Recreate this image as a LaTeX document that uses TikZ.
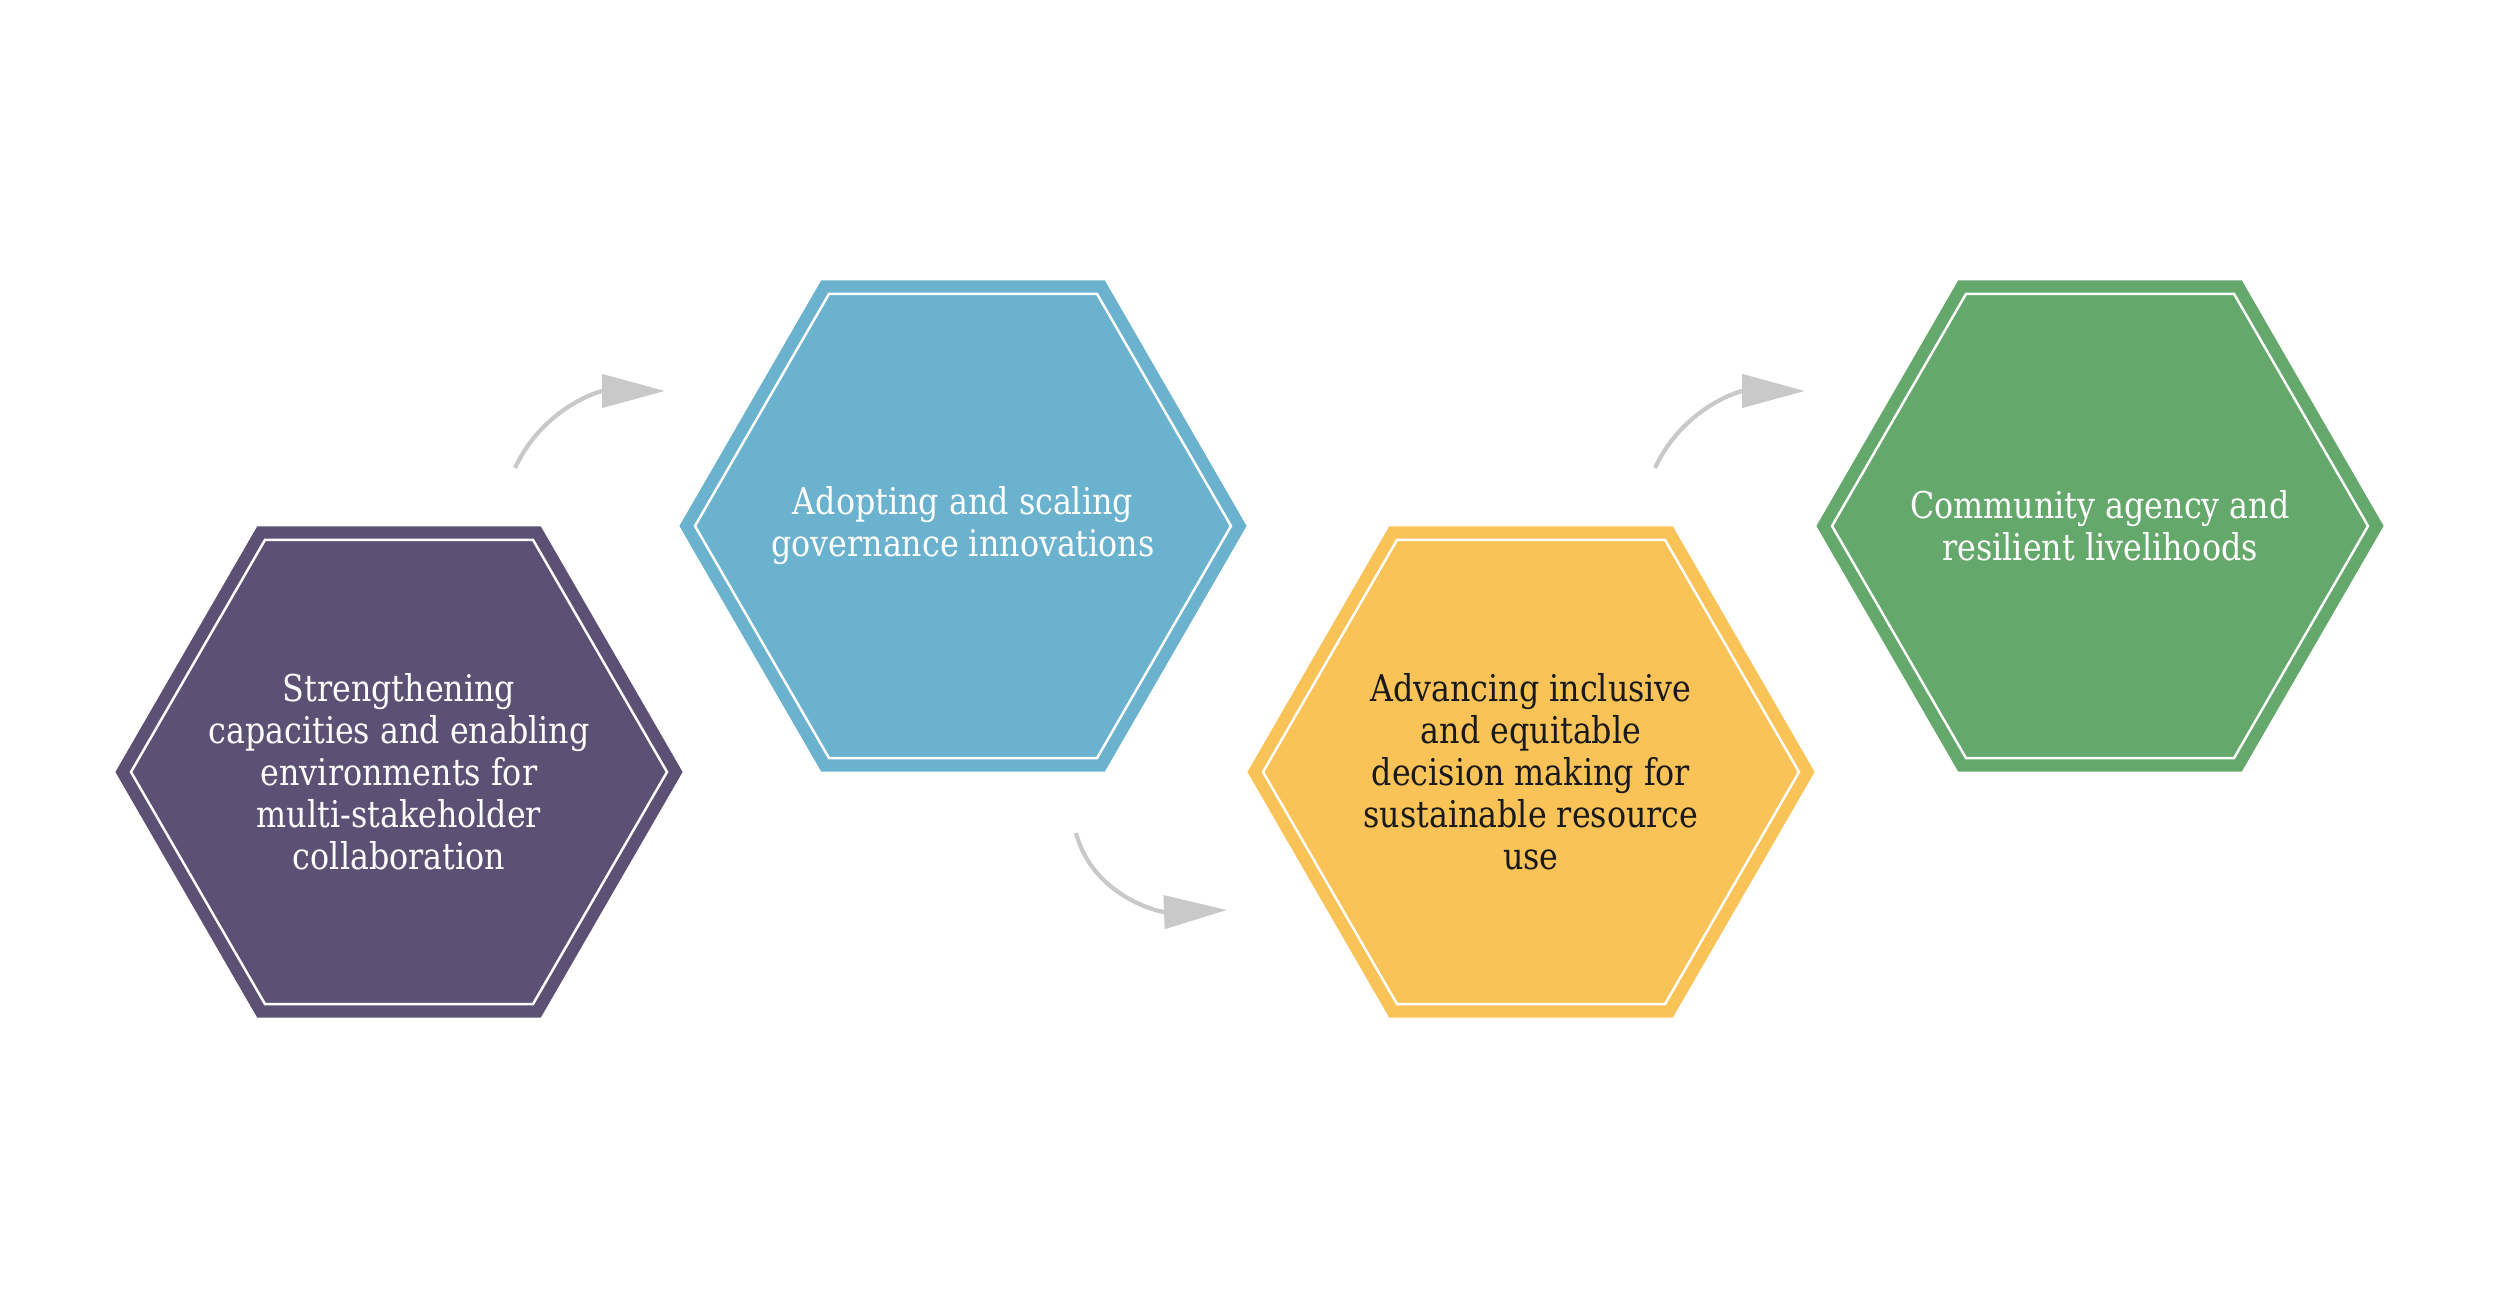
\documentclass[tikz,border=0pt]{standalone}
\usepackage{fontspec}
\setmainfont{DejaVu Serif}[FakeStretch=0.86]
\usetikzlibrary{shapes.geometric,arrows.meta}

\definecolor{hexpurple}{HTML}{5C5075}
\definecolor{hexblue}{HTML}{6BB2CF}
\definecolor{hexyellow}{HTML}{F9C358}
\definecolor{hexgreen}{HTML}{64A86B}
\definecolor{arrowgray}{HTML}{C9C9C9}

\tikzset{
  hexa/.style={regular polygon, regular polygon sides=6, minimum size=5.36cm, inner sep=0pt,
    fill=#1, draw=white, line width=0.7pt, line join=miter,
    preaction={draw=#1, line width=0.27cm, line join=miter}},
  hexatext/.style={align=center, inner sep=0pt, font=\fontsize{10.5}{11.95}\selectfont},
  flow/.style={draw=arrowgray, line width=1.2pt, -{Triangle[length=0.63cm, width=0.33cm]}},
}

\begin{document}
\begin{tikzpicture}
    \useasboundingbox (0,0) rectangle (25,12.97);
    \node[hexa=hexpurple] (strengthen) at (3.99,5.25) {};
    \node[hexa=hexblue] (adopt) at (9.63,7.71) {};
    \node[hexa=hexyellow] (advance) at (15.31,5.25) {};
    \node[hexa=hexgreen] (community) at (21.00,7.71) {};
    \node[hexatext, text=white] (strengthen-txt) at (strengthen) {Strengthening\\capacities and enabling\\environments for\\multi-stakeholder\\collaboration};
    \node[hexatext, text=white] (adopt-txt) at (adopt) {Adopting and scaling\\governance innovations};
    \node[hexatext, text=black!90] (advance-txt) at (advance) {Advancing inclusive\\and equitable\\decision making for\\sustainable resource\\use};
    \node[hexatext, text=white] (community-txt) at (community) {Community agency and\\resilient livelihoods};
    % curved arrows between the steps
    \coordinate (s1) at (5.15,8.29);
    \coordinate (e1) at (6.65,9.06);
    \coordinate (s2) at (10.76,4.64);
    \coordinate (e2) at (12.27,3.87);
    \coordinate (s3) at (16.55,8.29);
    \coordinate (e3) at (18.05,9.06);
    \draw[flow] (s1) to[out=65, in=180] (e1);
    \draw[flow] (s2) to[out=-75, in=182] (e2);
    \draw[flow] (s3) to[out=65, in=180] (e3);
\end{tikzpicture}
\end{document}
